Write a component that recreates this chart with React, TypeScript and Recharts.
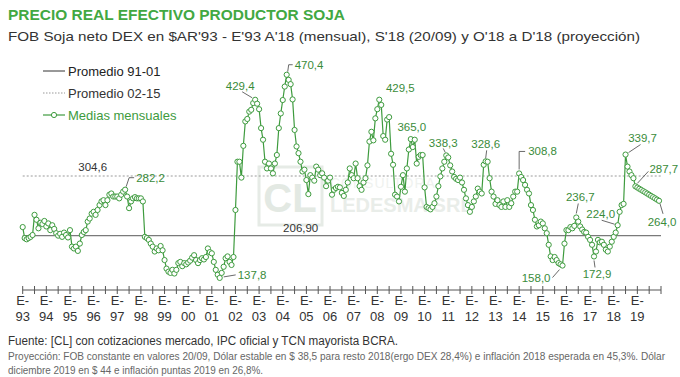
import React from 'react'
import { ComposedChart, Line, XAxis, YAxis, ReferenceLine } from 'recharts'

const GREEN = '#3e9b3e'
const LABEL_GREEN = '#3a8c3a'
const FONT = '"Liberation Sans", Arial, sans-serif'

const YEARS = ['93', '94', '95', '96', '97', '98', '99', '00', '01', '02', '03', '04', '05', '06',
  '07', '08', '09', '10', '11', '12', '13', '14', '15', '16', '17', '18', '19']

// medias mensuales, $AR'93 por tonelada (E a D de cada año)
const v1993 = [221, 203, 201, 203, 205, 208, 241, 233, 219, 228, 226, 231]
const v1994 = [222, 227, 216, 224, 218, 211, 207, 210, 205, 212, 208, 204]
const v1995 = [216, 189, 186, 189, 182, 194, 208, 213, 216, 230, 235, 243]
const v1996 = [246, 241, 249, 257, 263, 265, 257, 265, 274, 276, 271, 271]
const v1997 = [271, 268, 274, 279, 282.2, 271, 252, 263, 268, 270, 268, 268]
const v1998 = [268, 263, 205, 203, 200, 194, 189, 181, 186, 183, 190, 183]
const v1999 = [167, 153, 148, 146, 151, 145, 151, 162, 164, 157, 162, 160]
const v2000 = [163, 166, 171, 175, 167, 162, 167, 170, 168, 172, 186, 180]
const v2001 = [178, 164, 151, 143, 137.8, 146, 156, 170, 173, 164, 159, 172]
const v2002 = [249, 328, 328, 302, 354, 394, 398, 410, 413, 424, 429.4, 423]
const v2003 = [414, 383, 364, 328, 317, 325, 317, 309, 325, 339, 383, 407]
const v2004 = [429, 451, 470.4, 462, 455, 430, 380, 353, 342, 328, 312, 315]
const v2005 = [298, 275, 306, 302, 297, 320, 315, 306, 309, 302, 288, 297]
const v2006 = [302, 274, 282, 285, 287, 286, 277, 272, 282, 294, 317, 306]
const v2007 = [301, 325, 301, 288, 282, 294, 301, 322, 361, 377, 363, 399]
const v2008 = [414, 429.5, 421, 370, 364, 397, 401, 341, 323, 274, 271, 263]
const v2009 = [287, 306, 279, 317, 348, 365, 352, 364, 325, 336, 339, 339]
const v2010 = [286, 254, 252, 250, 254, 260, 271, 288, 304, 317, 328, 338.3]
const v2011 = [335, 322, 312, 303, 300, 298, 302, 294, 282, 268, 257, 246]
const v2012 = [254, 263, 271, 284, 279, 276, 323, 328.6, 328, 301, 279, 271]
const v2013 = [259, 265, 257, 254, 263, 254, 265, 254, 260, 271, 279, 279]
const v2014 = [308.8, 303, 298, 290, 282, 276, 257, 249, 233, 222, 224, 230]
const v2015 = [227, 219, 211, 192, 173, 167, 172, 167, 162, 160, 158.0, 194]
const v2016 = [216, 216, 221, 219, 223, 236.7, 230, 222, 217, 213, 212, 205]
const v2017 = [200, 192, 172.9, 181, 200, 196, 197, 192, 184, 181, 189, 197]
const v2018 = [205, 212, 224.0, 246, 257, 259, 339.7, 320, 312, 306, 301, 287.7]
const v2019 = [285.7, 283.7, 281.8, 279.8, 277.9, 275.9, 273.9, 271.9, 270.0, 268.0, 266.0, 264.0]

const SERIES = [...v1993, ...v1994, ...v1995, ...v1996, ...v1997, ...v1998, ...v1999, ...v2000,
  ...v2001, ...v2002, ...v2003, ...v2004, ...v2005, ...v2006, ...v2007, ...v2008, ...v2009,
  ...v2010, ...v2011, ...v2012, ...v2013, ...v2014, ...v2015, ...v2016, ...v2017, ...v2018, ...v2019]

const PROM_91_01 = 206.9
const PROM_02_15 = 304.6

// rótulos: desplazamiento respecto del punto y línea guía
type Place = { dx: number; dy: number; anchor: 'start' | 'middle' | 'end'; lead?: number[] }
const PLACES: Record<number, Place> = {
  52: { dx: 11, dy: -12, anchor: 'start', lead: [1, -3, 4, -12, 9, -12] },
  100: { dx: 18, dy: -3, anchor: 'start', lead: [4, -1, 16, -3] },
  118: { dx: -15, dy: -14, anchor: 'middle', lead: [-13, -8, -3, -2] },
  134: { dx: 8, dy: -10, anchor: 'start', lead: [1, -3, 2, -10, 6, -10] },
  181: { dx: 21, dy: -12, anchor: 'middle' },
  197: { dx: 1, dy: -12, anchor: 'middle' },
  215: { dx: -3, dy: -12, anchor: 'middle', lead: [-1, -3, -3, -7] },
  235: { dx: 0, dy: -17, anchor: 'middle', lead: [0, -3, 1, -11] },
  252: { dx: 9, dy: -22, anchor: 'start', lead: [0, -4, 0, -22, 6, -22] },
  274: { dx: -12, dy: 12, anchor: 'end', lead: [-10, 12, -3, 4] },
  281: { dx: 4, dy: -20, anchor: 'middle', lead: [0, -4, 2, -14] },
  290: { dx: 3, dy: 18, anchor: 'middle', lead: [0, 4, 1, 11] },
  302: { dx: -17, dy: -11, anchor: 'middle', lead: [-16, -5, -3, -1] },
  306: { dx: 17, dy: -17, anchor: 'middle', lead: [3, -2, 15, -10] },
  311: { dx: 14, dy: -17, anchor: 'start', lead: [2, -3, 13, -15] },
  323: { dx: 3, dy: 21, anchor: 'middle', lead: [1, 3, 4, 13] },
}

const data = SERIES.map((v, i) => ({ i, v }))
const ticks = Array.from({ length: 55 }, (_, k) => k * 6)
const fmt = (n: number) => n.toFixed(1).replace('.', ',')

function XTick(props: any) {
  const { x, y, payload } = props
  const m = payload.value as number
  const yr = m % 12 === 0 ? YEARS[m / 12] : undefined
  return (
    <g>
      <line x1={x} x2={x} y1={y - 4} y2={y + 4} stroke="#555" />
      {yr && (
        <>
          <text x={x} y={y + 15} textAnchor="middle" fontSize={13} fill="#333" fontFamily={FONT}>E-</text>
          <text x={x} y={y + 31} textAnchor="middle" fontSize={13} fill="#333" fontFamily={FONT}>{yr}</text>
        </>
      )}
    </g>
  )
}

function PointLabel(props: any) {
  const { cx, cy, index } = props
  const p = PLACES[index]
  if (!p || cx == null || cy == null) return <g key={`l${index}`} />
  const pts: string[] = []
  if (p.lead) for (let k = 0; k < p.lead.length; k += 2) pts.push(`${cx + p.lead[k]},${cy + p.lead[k + 1]}`)
  return (
    <g key={`l${index}`}>
      {p.lead && <polyline points={pts.join(' ')} fill="none" stroke="#444" strokeWidth={0.8} />}
      <text x={cx + p.dx} y={cy + p.dy} textAnchor={p.anchor} dominantBaseline="central"
        fontSize={11.5} fill={LABEL_GREEN} fontFamily={FONT}>{fmt(SERIES[index])}</text>
    </g>
  )
}

function RefLabel(props: any) {
  const { viewBox, text, dx, dy } = props
  if (!viewBox) return null
  return (
    <text x={viewBox.x + dx} y={viewBox.y + dy} textAnchor="middle" dominantBaseline="central"
      fontSize={11.5} fill="#333" fontFamily={FONT}>{text}</text>
  )
}

// texto angosto: se comprime en x para ocupar el ancho indicado
function NarrowText({ x, y, width, k, size, fill, children }: any) {
  return (
    <g transform={`translate(${x},${y}) scale(${k},1)`}>
      <text x={0} y={0} fontSize={size} fill={fill} textLength={width / k} lengthAdjust="spacingAndGlyphs">{children}</text>
    </g>
  )
}

export default function App() {
  return (
    <div style={{ position: 'absolute', left: 0, top: 0, width: 680, height: 377, background: '#fff', fontFamily: FONT }}>
      {/* marca de agua */}
      <svg width={680} height={377} style={{ position: 'absolute', left: 0, top: 0 }}>
        <rect x={259} y={167} width={63} height={58} fill="none" stroke="#e6ebe6" strokeWidth={3} />
        <text x={290} y={212} textAnchor="middle" fontSize={40} fontWeight="bold" fill="#e3e9e3" fontFamily={FONT}>CL</text>
        <text x={330} y={188} fontSize={14} fill="#eff2ef" fontFamily={FONT} letterSpacing={1}>CONSULTORA</text>
        <text x={330} y={212} fontSize={20} fontWeight="bold" fill="#e9ede9" fontFamily={FONT}>LEDESMA SRL</text>
      </svg>

      <div style={{ position: 'absolute', left: 0, top: 0 }}>
        <ComposedChart width={680} height={377} data={data} margin={{ top: 20, right: 19, bottom: 57, left: 22.7 }}>
          <XAxis dataKey="i" type="number" domain={[0, 324]} ticks={ticks} interval={0} height={30}
            tickLine={false} tickSize={0} tickMargin={0} axisLine={{ stroke: '#555' }} tick={<XTick />} />
          <YAxis hide type="number" domain={[118, 560]} allowDataOverflow />
          <ReferenceLine y={PROM_02_15} stroke="#9a9a9a" strokeDasharray="2 2" strokeWidth={1}
            label={<RefLabel text="304,6" dx={70} dy={-9} />} />
          <ReferenceLine y={PROM_91_01} stroke="#7a7a7a" strokeWidth={1.2}
            label={<RefLabel text="206,90" dx={278} dy={-8} />} />
          <Line dataKey="v" type="linear" stroke={GREEN} strokeWidth={1.2} isAnimationActive={false}
            dot={{ r: 2.6, fill: '#fff', stroke: GREEN, strokeWidth: 1 }} activeDot={false} />
          <Line dataKey="v" type="linear" stroke="none" isAnimationActive={false}
            dot={PointLabel} activeDot={false} legendType="none" />
        </ComposedChart>
      </div>

      {/* títulos, leyenda y notas */}
      <svg width={680} height={377} style={{ position: 'absolute', left: 0, top: 0, pointerEvents: 'none' }} fontFamily={FONT}>
        <text x={8} y={20} fontSize={15.5} fontWeight="bold" fill="#42a842" textLength={337} lengthAdjust="spacingAndGlyphs">
          PRECIO REAL EFECTIVO PRODUCTOR SOJA
        </text>
        <text x={8} y={41} fontSize={13.5} fill="#333" textLength={632} lengthAdjust="spacingAndGlyphs">
          FOB Soja neto DEX en $AR'93 - E'93 A'18 (mensual), S'18 (20/09) y O'18 a D'18 (proyección)
        </text>

        <line x1={43} x2={65} y1={71} y2={71} stroke="#333" strokeWidth={1} />
        <text x={68} y={71} dominantBaseline="central" fontSize={13} fill="#222">Promedio 91-01</text>
        <line x1={43} x2={65} y1={93} y2={93} stroke="#999" strokeWidth={1} strokeDasharray="1.5 1.5" />
        <text x={68} y={93} dominantBaseline="central" fontSize={13} fill="#333">Promedio 02-15</text>
        <line x1={43} x2={65} y1={115} y2={115} stroke={GREEN} strokeWidth={1.2} />
        <circle cx={54} cy={115} r={2.6} fill="#fff" stroke={GREEN} strokeWidth={1} />
        <text x={68} y={115} dominantBaseline="central" fontSize={13} fill={GREEN}>Medias mensuales</text>

        <text x={8} y={345} fontSize={12.5} fill="#333" textLength={390} lengthAdjust="spacingAndGlyphs">
          Fuente: [CL] con cotizaciones mercado, IPC oficial y TCN mayorista BCRA.
        </text>
        <NarrowText x={8} y={360} width={657} k={0.85} size={11} fill="#666">
          Proyección: FOB constante en valores 20/09, Dólar estable en $ 38,5 para resto 2018(ergo DEX 28,4%) e inflación 2018 esperada en 45,3%. Dólar
        </NarrowText>
        <NarrowText x={8} y={374} width={255} k={0.85} size={11} fill="#666">
          diciembre 2019 en $ 44 e inflación puntas 2019 en 26,8%.
        </NarrowText>
      </svg>
    </div>
  )
}
